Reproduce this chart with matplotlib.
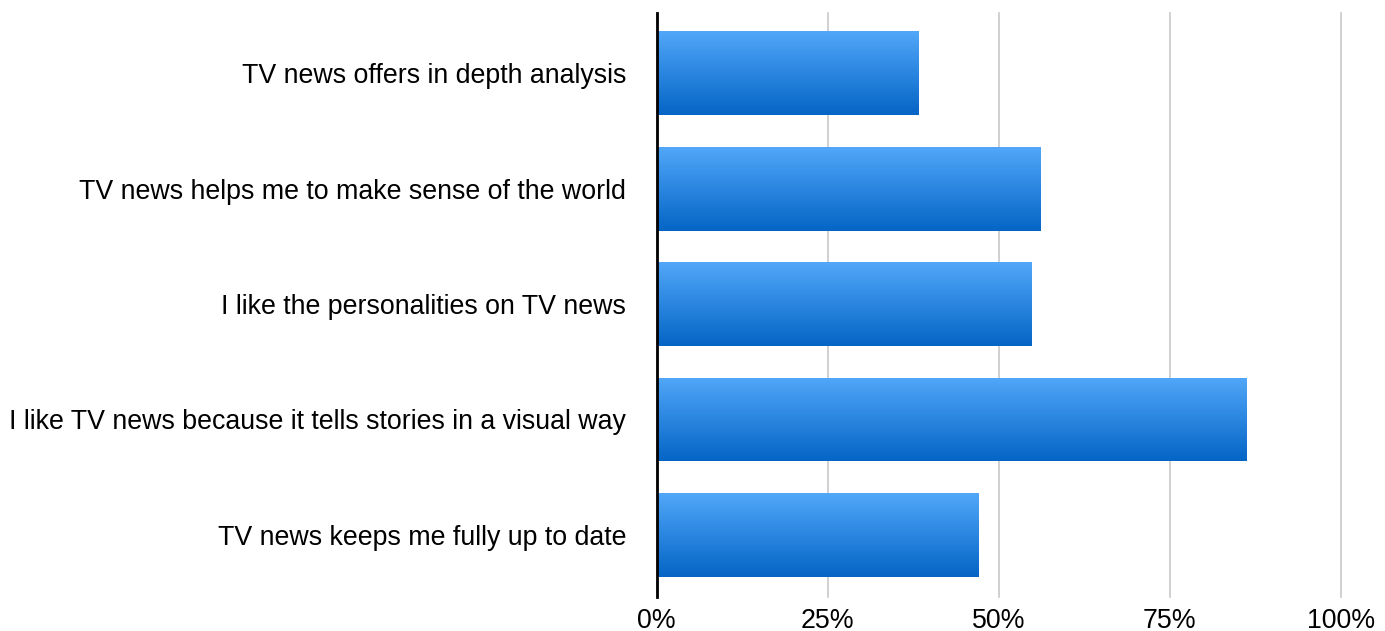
import matplotlib
matplotlib.use("Agg")
import matplotlib.pyplot as plt
import numpy as np
from matplotlib.colors import LinearSegmentedColormap
from matplotlib.ticker import FuncFormatter

categories = [
    "TV news offers in depth analysis",
    "TV news helps me to make sense of the world",
    "I like the personalities on TV news",
    "I like TV news because it tells stories in a visual way",
    "TV news keeps me fully up to date",
]
values = [38.2, 56.0, 54.8, 86.1, 47.0]
xticks = [0, 25, 50, 75, 100]

plt.rcParams["font.family"] = ["Liberation Sans", "DejaVu Sans"]

fig = plt.figure(figsize=(13.85, 6.31), dpi=100)
ax = fig.add_axes([0.4742, 0.0539, 0.9682 - 0.4742, 0.9794 - 0.0539])

pos = np.arange(len(categories))
bars = ax.barh(pos, values, height=0.727, facecolor="none", edgecolor="none", zorder=3)

# vertical gradient fill, light on top, darker at the bottom
grad_cmap = LinearSegmentedColormap.from_list("bar_grad", ["#52A7F8", "#2A86E0", "#0565C5"])
gradient = np.linspace(0, 1, 256).reshape(-1, 1)
for patch in bars:
    x0, y0 = patch.get_x(), patch.get_y()
    w, h = patch.get_width(), patch.get_height()
    im = ax.imshow(gradient, cmap=grad_cmap, aspect="auto",
                   extent=[x0, x0 + w, y0 + h, y0], origin="upper",
                   interpolation="bilinear", zorder=3)
    im.set_clip_path(patch)

ax.set_xlim(0, 100)
ax.set_ylim(4.537, -0.52)
ax.set_xticks(xticks)
ax.xaxis.set_major_formatter(FuncFormatter(lambda v, p: f"{int(v)}%"))
ax.set_yticks(pos)
ax.set_yticklabels(categories)

ax.grid(axis="x", color="#c8c8c8", linewidth=1.2, zorder=1)
for gl in ax.xaxis.get_gridlines():
    gl.set_clip_on(False)
ax.set_axisbelow(True)
for side in ("top", "right", "bottom"):
    ax.spines[side].set_visible(False)
ax.spines["left"].set_color("black")
ax.spines["left"].set_linewidth(2.0)
ax.spines["left"].set_zorder(4)

ax.tick_params(axis="both", length=0, labelsize=19.3, colors="black")
ax.tick_params(axis="y", pad=22)
ax.tick_params(axis="x", pad=8)

fig.savefig("out.png", dpi=100, facecolor="white")
